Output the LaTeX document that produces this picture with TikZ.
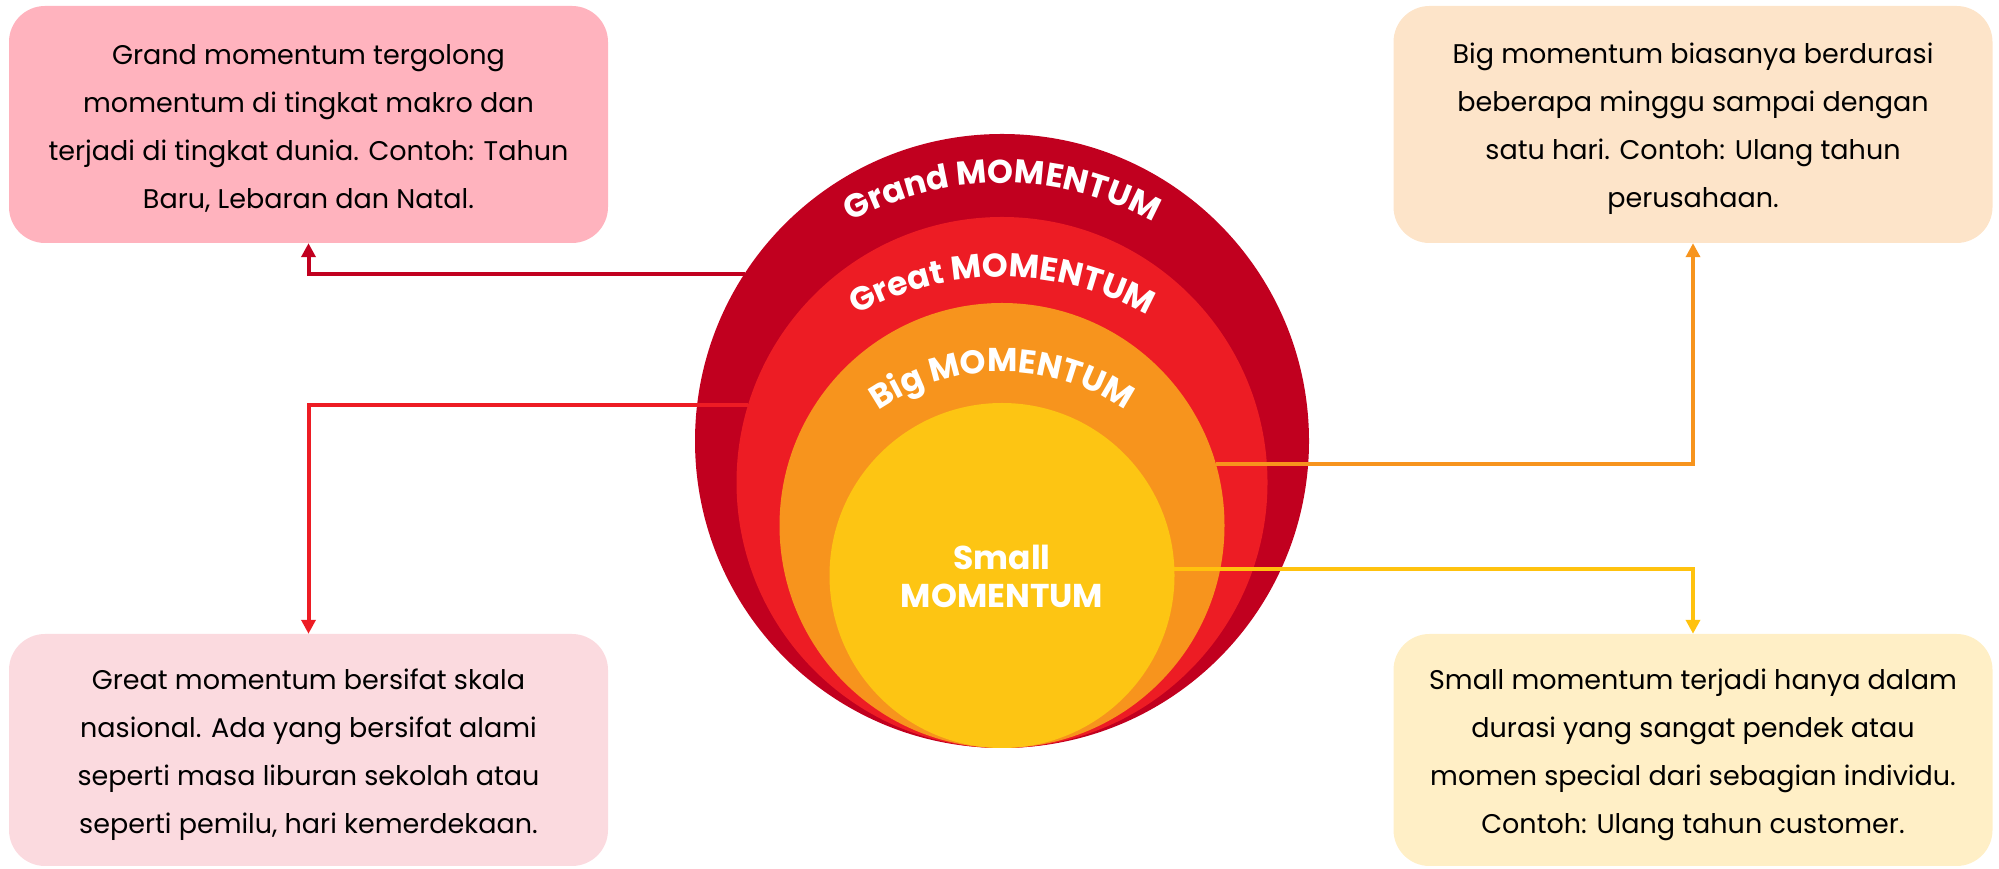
\documentclass[tikz,border=0pt]{standalone}
\usepackage{fontspec}
\setmainfont{Poppins}
\usetikzlibrary{arrows.meta,decorations.text}
\definecolor{cGrand}{HTML}{C1001F}
\definecolor{cGreat}{HTML}{ED1C24}
\definecolor{cBig}{HTML}{F7941D}
\definecolor{cSmall}{HTML}{FDC513}
\definecolor{bGrand}{HTML}{FFB3BE}
\definecolor{bGreat}{HTML}{FBDADF}
\definecolor{bBig}{HTML}{FDE4C9}
\definecolor{bSmall}{HTML}{FFEFC6}
\definecolor{lSmall}{HTML}{FFC20E}
\newcommand\boxfont{\fontsize{27}{48}\selectfont}
\newcommand\arcfont{\fontsize{33}{38}\selectfont\bfseries}
\tikzset{
  ring/.style={circle, inner sep=0pt, outer sep=0pt, draw=none},
  infobox/.style={rounded corners=36pt, minimum width=599pt, inner sep=0pt},
  infotext/.style={align=center, font=\boxfont, text=black, inner sep=0pt},
  conn/.style={line width=4pt, -{Triangle[length=14pt,width=14pt]}},
  arclabel/.style={decorate, decoration={text along path, text color=white, text align=center, text={#1}}}
}
\begin{document}
\begin{tikzpicture}[x=1pt,y=1pt]
\useasboundingbox (0,0) rectangle (1999,869);
% info boxes
\node[infobox, fill=bGrand, minimum height=237pt] (grandbox) at (308.5,744.5) {};
\node[infobox, fill=bBig, minimum height=237pt] (bigbox) at (1693,744.5) {};
\node[infobox, fill=bGreat, minimum height=232pt] (greatbox) at (308.5,119) {};
\node[infobox, fill=bSmall, minimum height=232pt] (smallbox) at (1693,119) {};
\node[infotext] (grandtxt) at ([yshift=-4pt]grandbox.center)
  {Grand momentum tergolong\\momentum di tingkat makro dan\\terjadi di tingkat dunia. Contoh: Tahun\\Baru, Lebaran dan Natal.};
\node[infotext] (bigtxt) at ([yshift=-4pt]bigbox.center)
  {Big momentum biasanya berdurasi\\beberapa minggu sampai dengan\\satu hari. Contoh: Ulang tahun\\perusahaan.};
\node[infotext] (greattxt) at ([yshift=-5pt]greatbox.center)
  {Great momentum bersifat skala\\nasional. Ada yang bersifat alami\\seperti masa liburan sekolah atau\\seperti pemilu, hari kemerdekaan.};
\node[infotext] (smalltxtbox) at ([yshift=-5pt]smallbox.center)
  {Small momentum terjadi hanya dalam\\durasi yang sangat pendek atau\\momen special dari sebagian individu.\\Contoh: Ulang tahun customer.};
% nested circles
\node[ring, fill=cGrand, minimum size=614pt] (grand) at (1002,428) {};
\node[ring, fill=cGreat, minimum size=531pt] (great) at (1002,386.5) {};
\node[ring, fill=cBig, minimum size=445pt] (big) at (1002,343.5) {};
\node[ring, fill=cSmall, minimum size=345pt] (small) at (1002,293.5) {};
% curved labels
\path[arclabel={|\arcfont|Grand MOMENTUM}] ([shift={(140:312)}]1002,374) arc[start angle=140, end angle=40, radius=312];
\path[arclabel={|\arcfont|Great MOMENTUM}] ([shift={(140:297)}]1002,295) arc[start angle=140, end angle=40, radius=297];
\path[arclabel={|\arcfont|Big MOMENTUM}] ([shift={(145:218)}]1002,279) arc[start angle=145, end angle=35, radius=218];
\node[font=\arcfont, text=white, align=center] (smalltxt) at (1002,293) {Small\\MOMENTUM};
% connectors
\draw[conn, cGrand] (grand.147.5) -| (grandbox.south);
\draw[conn, cGreat] (great.163.7) -| (greatbox.north);
\draw[conn, cBig] (big.16.6) -| (bigbox.south);
\draw[conn, lSmall] (small.2.8) -| (smallbox.north);
\end{tikzpicture}
\end{document}
